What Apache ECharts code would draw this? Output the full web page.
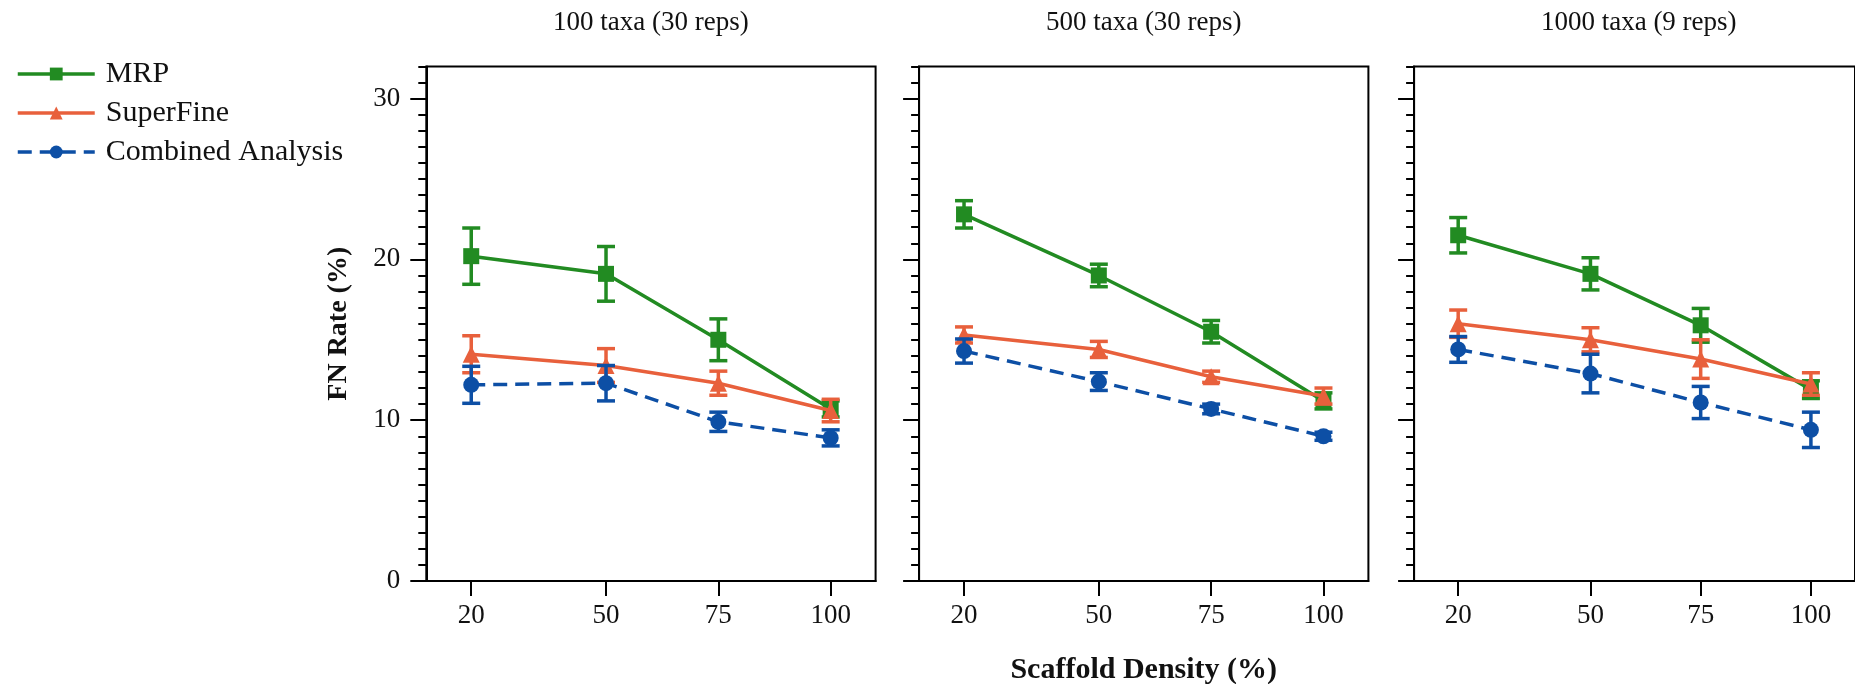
<!DOCTYPE html>
<html>
<head>
<meta charset="utf-8">
<script src="https://cdn.jsdelivr.net/npm/echarts@6/dist/echarts.min.js"></script>
<style>
html,body{margin:0;padding:0;background:#fff;}
#chart{width:1855px;height:684px;}
</style>
</head>
<body>
<div id="chart"></div>
<script>
// ---- data ----
const xValues = [20, 50, 75, 100];
const panelTitles = ['100 taxa (30 reps)', '500 taxa (30 reps)', '1000 taxa (9 reps)'];
const yTickValues = [0, 10, 20, 30];
const seriesNames = ['MRP', 'SuperFine', 'Combined Analysis'];
// mean FN rate per panel (100, 500, 1000 taxa)
const mrpMean = [[20.2, 19.1, 15.0, 10.7], [22.8, 19.0, 15.5, 11.2], [21.5, 19.1, 15.9, 11.9]];
const mrpErr  = [[1.75, 1.7, 1.3, 0.5], [0.85, 0.7, 0.7, 0.5], [1.1, 1.0, 1.05, 0.55]];
const sfMean  = [[14.1, 13.4, 12.3, 10.6], [15.3, 14.4, 12.7, 11.5], [16.0, 15.0, 13.8, 12.25]];
const sfErr   = [[1.15, 1.05, 0.75, 0.7], [0.5, 0.5, 0.35, 0.5], [0.85, 0.75, 1.2, 0.7]];
const caMean  = [[12.2, 12.3, 9.9, 8.9], [14.3, 12.4, 10.7, 9.0], [14.4, 12.9, 11.1, 9.4]];
const caErr   = [[1.15, 1.1, 0.6, 0.5], [0.75, 0.55, 0.3, 0.25], [0.8, 1.2, 1.0, 1.1]];

// ---- styles ----
const FONT = 'Liberation Serif';
const colors = ['#228B22', '#E8603C', '#0D4FA5'];
const symbols = ['rect', 'triangle', 'circle'];
const symbolSizes = [16, 17, 16];
const panelLeft = [426.3, 919.1, 1414.1];
const panelWidth = 449.3;
const panelTop = 66.4;
const panelHeight = 514.6;

const chart = echarts.init(document.getElementById('chart'), null, {renderer: 'canvas'});

const grids = [], xAxes = [], yAxes = [], series = [], graphics = [];
const means = [mrpMean, sfMean, caMean];
const errs = [mrpErr, sfErr, caErr];

for (let p = 0; p < 3; p++) {
  grids.push({left: panelLeft[p], top: panelTop, width: panelWidth, height: panelHeight,
    show: true, borderColor: '#000', borderWidth: 2, backgroundColor: 'transparent', containLabel: false});
  xAxes.push({type: 'value', gridIndex: p, min: 10, max: 110, interval: 10,
    axisLine: {show: true, onZero: false, lineStyle: {color: '#000', width: 2}},
    axisTick: {show: true, length: 15, customValues: xValues, lineStyle: {color: '#000', width: 2}},
    axisLabel: {show: true, customValues: xValues, fontFamily: FONT, fontSize: 27, color: '#111', margin: 21},
    splitLine: {show: false}});
  // major y axis
  yAxes.push({type: 'value', gridIndex: p, min: 0, max: 32, interval: 10,
    axisLine: {show: true, onZero: false, lineStyle: {color: '#000', width: 2}},
    axisTick: {show: true, length: 16, customValues: yTickValues, lineStyle: {color: '#000', width: 2}},
    axisLabel: {show: p === 0, customValues: yTickValues, fontFamily: FONT, fontSize: 27, color: '#111', margin: 26},
    splitLine: {show: false}});
  // minor y ticks
  yAxes.push({type: 'value', gridIndex: p, position: 'left', min: 0, max: 32, interval: 1,
    axisLine: {show: false},
    axisTick: {show: true, length: 8, lineStyle: {color: '#000', width: 2}},
    axisLabel: {show: false}, splitLine: {show: false}});

  for (let s = 0; s < 3; s++) {
    const m = means[s][p], e = errs[s][p];
    const errData = xValues.map((x, i) => [x, m[i] - e[i], m[i] + e[i]]);
    const col = colors[s];
    series.push({
      type: 'custom', name: '_err' + s, xAxisIndex: p, yAxisIndex: p * 2,
      encode: {x: 0, y: [1, 2]}, data: errData, z: 2 + s * 2,
      renderItem: function (params, api) {
        const x = api.value(0);
        const lo = api.coord([x, api.value(1)]);
        const hi = api.coord([x, api.value(2)]);
        const hw = 9;
        const st = {stroke: col, lineWidth: 3.5};
        return {type: 'group', children: [
          {type: 'line', shape: {x1: lo[0], y1: lo[1], x2: hi[0], y2: hi[1]}, style: st},
          {type: 'line', shape: {x1: lo[0] - hw, y1: lo[1], x2: lo[0] + hw, y2: lo[1]}, style: st},
          {type: 'line', shape: {x1: hi[0] - hw, y1: hi[1], x2: hi[0] + hw, y2: hi[1]}, style: st}
        ]};
      }
    });
    series.push({
      type: 'line', name: seriesNames[s], xAxisIndex: p, yAxisIndex: p * 2,
      data: xValues.map((x, i) => [x, m[i]]), z: 3 + s * 2,
      symbol: symbols[s], symbolSize: symbolSizes[s], showSymbol: true,
      itemStyle: {color: col},
      lineStyle: {color: col, width: 3.5, type: s === 2 ? [14, 8] : 'solid'}
    });
  }

  graphics.push({type: 'text', x: panelLeft[p] + panelWidth / 2, y: 23,
    style: {text: panelTitles[p], font: '27px "' + FONT + '"', fill: '#111', align: 'center', verticalAlign: 'middle'}});
}

graphics.push({type: 'text', x: panelLeft[1] + panelWidth / 2, y: 670,
  style: {text: 'Scaffold Density (%)', font: 'bold 30px "' + FONT + '"', fill: '#111', align: 'center', verticalAlign: 'middle'}});
graphics.push({type: 'text', x: 339, y: panelTop + panelHeight / 2, rotation: Math.PI / 2,
  style: {text: 'FN Rate (%)', font: 'bold 28px "' + FONT + '"', fill: '#111', align: 'center', verticalAlign: 'middle'}});

chart.setOption({
  animation: false,
  backgroundColor: '#fff',
  grid: grids, xAxis: xAxes, yAxis: yAxes, series: series,
  legend: {
    data: seriesNames, orient: 'vertical', left: 11, top: 54,
    itemWidth: 77, itemHeight: 16, itemGap: 9,
    lineStyle: {width: 3.5},
    textStyle: {fontFamily: FONT, fontSize: 30, color: '#111', lineHeight: 30, padding: [0, 0, 0, 6]}
  },
  graphic: graphics
});
</script>
</body>
</html>
